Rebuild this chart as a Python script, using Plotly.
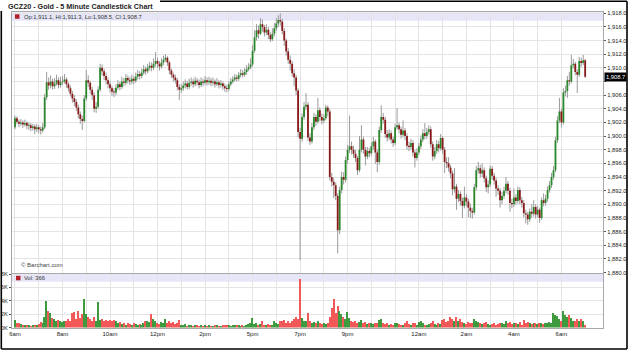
import plotly.graph_objects as go

# ---------------- data (5-minute bars, index 0 = 6:00am) ----------------
opens = [
    1901.3,1902.6,1902.1,1901.8,1902.0,1901.7,1901.9,1901.5,1901.6,1901.2,1901.4,1901.0,
    1901.3,1901.0,1900.8,1901.3,1905.7,1907.9,1907.4,1908.0,1907.3,1907.7,1908.2,1907.5,
    1907.9,1908.0,1908.3,1907.6,1907.0,1906.2,1905.5,1905.0,1904.2,1903.2,1902.5,1902.2,
    1905.5,1908.2,1907.8,1906.8,1906.0,1904.0,1904.3,1906.8,1910.0,1909.5,1908.8,1908.2,
    1907.6,1907.0,1906.5,1906.4,1907.1,1907.6,1907.2,1908.0,1907.8,1908.5,1908.2,1908.0,
    1908.4,1908.1,1908.7,1909.1,1908.8,1909.3,1909.8,1909.5,1910.0,1910.3,1910.0,1910.6,
    1911.0,1910.6,1910.2,1910.8,1911.2,1911.5,1910.8,1909.6,1909.0,1908.6,1908.2,1907.2,
    1906.8,1907.0,1907.4,1907.7,1907.2,1907.8,1908.0,1907.6,1908.1,1907.9,1907.5,1908.0,
    1907.8,1908.2,1907.9,1908.1,1907.8,1908.0,1907.6,1907.9,1907.5,1907.7,1907.3,1907.0,
    1906.9,1907.6,1908.0,1908.3,1908.6,1908.4,1908.9,1909.2,1909.0,1909.4,1909.8,1910.1,
    1910.5,1912.5,1914.5,1915.5,1915.0,1916.4,1916.0,1915.2,1915.6,1914.8,1914.2,1915.0,
    1915.8,1916.5,1917.0,1916.8,1915.4,1914.0,1912.4,1911.2,1910.6,1909.2,1908.6,1906.7,
    1900.6,1899.6,1902.8,1904.3,1904.6,1899.8,1899.2,1901.3,1902.8,1902.1,1903.8,1902.8,
    1902.3,1902.6,1904.2,1903.6,1894.0,1893.3,1892.8,1891.2,1886.2,1892.1,1894.0,1893.6,
    1896.5,1898.0,1898.5,1898.0,1897.4,1896.8,1895.0,1898.0,1899.5,1898.0,1897.0,1897.8,
    1897.5,1898.5,1899.2,1897.6,1896.2,1900.9,1902.8,1902.4,1900.3,1899.8,1900.4,1899.5,
    1899.0,1901.3,1901.6,1901.0,1900.2,1900.8,1900.0,1898.6,1898.4,1899.0,1897.6,1896.8,
    1897.6,1898.5,1899.5,1900.4,1900.0,1900.6,1901.0,1898.8,1897.0,1897.8,1898.8,1898.2,
    1899.7,1898.0,1896.2,1896.0,1895.4,1894.5,1892.2,1892.6,1890.8,1891.5,1890.5,1889.8,
    1891.0,1890.4,1889.5,1889.0,1888.8,1892.5,1895.0,1895.3,1894.5,1895.0,1893.8,1892.5,
    1892.9,1895.2,1894.2,1893.5,1892.3,1892.0,1890.6,1891.2,1892.0,1893.0,1892.0,1890.2,
    1890.0,1891.0,1890.5,1892.1,1890.6,1890.2,1888.7,1888.5,1887.8,1888.9,1888.6,1889.6,
    1888.5,1889.2,1888.0,1890.6,1890.2,1890.8,1892.1,1892.8,1894.0,1895.0,1899.4,1902.3,
    1903.6,1902.0,1906.4,1906.6,1908.2,1908.0,1910.4,1910.6,1909.4,1909.0,1911.0,1910.7,
    1911.1,
]
highs = [
    1903.0,1902.9,1902.4,1902.5,1902.3,1902.4,1902.2,1902.0,1901.9,1901.8,1901.7,1901.8,
    1901.6,1901.4,1901.9,1906.2,1909.4,1908.6,1908.9,1908.4,1908.5,1909.0,1908.6,1908.7,
    1908.8,1909.1,1908.6,1907.9,1907.4,1906.6,1906.0,1905.4,1904.6,1903.6,1903.0,1906.0,
    1909.7,1908.9,1908.1,1907.2,1906.4,1905.0,1907.3,1910.6,1910.5,1909.9,1909.3,1908.6,
    1908.0,1907.4,1907.0,1907.6,1908.2,1908.0,1908.7,1908.5,1909.1,1908.9,1908.7,1909.0,
    1908.8,1909.3,1909.7,1909.5,1909.9,1910.4,1910.2,1910.6,1910.9,1910.8,1911.4,1912.3,
    1911.5,1911.0,1911.4,1911.8,1912.0,1911.7,1911.0,1909.9,1909.3,1909.0,1908.5,1907.6,
    1907.6,1908.0,1908.3,1908.1,1908.4,1908.6,1908.4,1908.7,1908.5,1908.3,1908.6,1908.4,
    1908.8,1908.6,1908.7,1908.5,1908.6,1908.3,1908.5,1908.2,1908.2,1908.0,1907.7,1907.5,
    1908.0,1908.5,1908.8,1909.1,1909.0,1909.4,1909.8,1909.7,1910.0,1910.4,1910.7,1911.4,
    1913.3,1915.5,1916.4,1916.2,1917.3,1917.1,1916.3,1916.4,1916.0,1915.2,1915.8,1916.6,
    1917.3,1917.7,1918.0,1917.2,1915.8,1914.3,1912.9,1911.8,1911.0,1909.8,1909.0,1907.0,
    1901.2,1903.3,1905.0,1906.3,1905.0,1900.4,1901.9,1903.4,1903.2,1905.6,1904.2,1903.3,
    1903.2,1904.6,1904.5,1904.0,1894.6,1893.9,1893.2,1891.6,1892.6,1894.8,1894.7,1897.0,
    1898.7,1903.0,1899.2,1898.6,1898.0,1897.1,1900.0,1901.6,1899.9,1898.4,1898.4,1898.2,
    1899.1,1899.9,1899.5,1898.0,1901.4,1904.5,1903.4,1902.8,1900.9,1901.0,1900.8,1899.9,
    1901.8,1904.1,1902.0,1901.4,1902.3,1901.2,1900.4,1899.2,1899.6,1899.4,1898.0,1898.2,
    1899.0,1900.1,1901.0,1901.9,1901.2,1901.6,1901.4,1899.2,1898.4,1899.4,1899.3,1900.3,
    1900.0,1898.4,1896.9,1896.9,1895.8,1894.9,1895.3,1893.0,1892.1,1891.9,1891.0,1892.6,
    1891.5,1890.8,1890.1,1889.5,1893.0,1895.6,1896.2,1895.8,1896.0,1895.4,1894.2,1893.5,
    1895.7,1895.6,1894.6,1893.9,1892.8,1892.4,1891.8,1892.6,1894.0,1893.4,1892.4,1890.8,
    1892.3,1891.5,1892.6,1892.5,1891.1,1890.6,1889.2,1888.9,1889.4,1890.0,1890.6,1890.0,
    1889.8,1889.5,1891.0,1891.6,1891.4,1892.6,1893.4,1894.6,1895.6,1899.9,1902.9,1905.6,
    1904.0,1907.0,1907.4,1908.8,1909.4,1911.9,1911.3,1910.9,1909.8,1911.6,1911.5,1911.9,
    1911.3,
]
lows = [
    1901.0,1901.8,1901.3,1901.5,1901.2,1901.4,1901.0,1900.9,1900.7,1900.8,1900.3,1900.6,
    1900.4,1900.2,1900.5,1901.0,1905.3,1906.8,1907.0,1906.8,1906.9,1907.4,1907.0,1907.1,
    1907.5,1907.7,1907.1,1906.5,1905.8,1904.9,1904.4,1903.7,1902.6,1901.8,1900.9,1902.0,
    1905.2,1907.2,1906.2,1905.3,1903.5,1903.4,1904.0,1906.5,1908.9,1908.2,1907.6,1907.0,
    1906.4,1905.9,1905.7,1906.0,1906.8,1906.7,1906.9,1907.3,1907.5,1907.7,1907.5,1907.6,
    1907.6,1907.8,1908.3,1908.3,1908.5,1909.0,1909.0,1909.2,1909.6,1909.5,1909.7,1910.2,
    1910.0,1909.6,1909.9,1910.4,1910.9,1910.3,1909.1,1908.5,1908.0,1907.7,1906.7,1905.3,
    1906.3,1906.6,1907.0,1906.8,1906.9,1907.4,1907.1,1907.3,1907.4,1907.0,1907.2,1907.3,
    1907.5,1907.4,1907.5,1907.3,1907.4,1907.1,1907.3,1907.0,1907.1,1906.8,1906.5,1906.4,
    1906.6,1907.3,1907.7,1908.0,1908.0,1908.1,1908.6,1908.6,1908.7,1909.0,1909.5,1909.8,
    1910.2,1912.2,1914.0,1914.3,1914.8,1915.3,1914.6,1914.8,1914.2,1913.8,1913.9,1914.6,
    1915.4,1916.0,1916.2,1914.9,1913.2,1911.8,1910.6,1909.6,1908.7,1907.3,1906.0,1899.8,
    1881.8,1899.2,1902.4,1903.8,1899.3,1898.7,1898.9,1900.9,1901.5,1901.8,1902.2,1901.7,
    1901.9,1902.3,1902.9,1893.5,1892.6,1890.9,1890.6,1882.8,1885.6,1891.6,1892.9,1893.2,
    1896.0,1897.5,1897.3,1896.8,1896.2,1894.3,1894.7,1897.6,1897.4,1895.7,1896.6,1896.9,
    1897.1,1898.0,1895.9,1894.7,1895.8,1900.5,1901.8,1899.7,1899.2,1899.4,1898.9,1898.4,
    1898.7,1900.9,1900.4,1899.6,1899.8,1899.4,1898.0,1897.8,1898.0,1897.0,1895.4,1896.4,
    1897.2,1898.1,1899.1,1899.5,1899.6,1900.2,1898.3,1896.4,1896.6,1897.4,1897.6,1897.9,
    1897.4,1894.6,1895.3,1894.8,1893.8,1891.3,1891.7,1889.2,1890.3,1889.8,1888.0,1889.4,
    1889.7,1888.1,1888.0,1887.9,1888.5,1892.1,1894.5,1893.9,1894.0,1893.2,1891.8,1891.6,
    1892.5,1893.6,1892.9,1891.1,1891.4,1889.5,1890.0,1890.8,1891.6,1891.4,1888.9,1889.4,
    1889.6,1889.9,1890.1,1890.0,1889.5,1888.1,1887.2,1887.0,1887.4,1888.0,1888.2,1887.9,
    1888.1,1887.3,1887.7,1889.7,1889.8,1890.4,1891.7,1892.4,1893.6,1894.7,1899.0,1901.9,
    1901.3,1901.7,1905.8,1905.6,1907.4,1907.7,1909.9,1908.9,1906.3,1908.7,1910.1,1910.4,
    1908.5,
]
closes = [
    1902.6,1902.1,1901.8,1902.0,1901.7,1901.9,1901.5,1901.6,1901.2,1901.4,1901.0,1901.3,
    1901.0,1900.8,1901.3,1905.7,1907.9,1907.4,1908.0,1907.3,1907.7,1908.2,1907.5,1907.9,
    1908.0,1908.3,1907.6,1907.0,1906.2,1905.5,1905.0,1904.2,1903.2,1902.5,1902.2,1905.5,
    1908.2,1907.8,1906.8,1906.0,1904.0,1904.3,1906.8,1910.0,1909.5,1908.8,1908.2,1907.6,
    1907.0,1906.5,1906.4,1907.1,1907.6,1907.2,1908.0,1907.8,1908.5,1908.2,1908.0,1908.4,
    1908.1,1908.7,1909.1,1908.8,1909.3,1909.8,1909.5,1910.0,1910.3,1910.0,1910.6,1911.0,
    1910.6,1910.2,1910.8,1911.2,1911.5,1910.8,1909.6,1909.0,1908.6,1908.2,1907.2,1906.8,
    1907.0,1907.4,1907.7,1907.2,1907.8,1908.0,1907.6,1908.1,1907.9,1907.5,1908.0,1907.8,
    1908.2,1907.9,1908.1,1907.8,1908.0,1907.6,1907.9,1907.5,1907.7,1907.3,1907.0,1906.9,
    1907.6,1908.0,1908.3,1908.6,1908.4,1908.9,1909.2,1909.0,1909.4,1909.8,1910.1,1910.5,
    1912.5,1914.5,1915.5,1915.0,1916.4,1916.0,1915.2,1915.6,1914.8,1914.2,1915.0,1915.8,
    1916.5,1917.0,1916.8,1915.4,1914.0,1912.4,1911.2,1910.6,1909.2,1908.6,1906.7,1900.6,
    1899.6,1902.8,1904.3,1904.6,1899.8,1899.2,1901.3,1902.8,1902.1,1903.8,1902.8,1902.3,
    1902.6,1904.2,1903.6,1894.0,1893.3,1892.8,1891.2,1886.2,1892.1,1894.0,1893.6,1896.5,
    1898.0,1898.5,1898.0,1897.4,1896.8,1895.0,1898.0,1899.5,1898.0,1897.0,1897.8,1897.5,
    1898.5,1899.2,1897.6,1896.2,1900.9,1902.8,1902.4,1900.3,1899.8,1900.4,1899.5,1899.0,
    1901.3,1901.6,1901.0,1900.2,1900.8,1900.0,1898.6,1898.4,1899.0,1897.6,1896.8,1897.6,
    1898.5,1899.5,1900.4,1900.0,1900.6,1901.0,1898.8,1897.0,1897.8,1898.8,1898.2,1899.7,
    1898.0,1896.2,1896.0,1895.4,1894.5,1892.2,1892.6,1890.8,1891.5,1890.5,1889.8,1891.0,
    1890.4,1889.5,1889.0,1888.8,1892.5,1895.0,1895.3,1894.5,1895.0,1893.8,1892.5,1892.9,
    1895.2,1894.2,1893.5,1892.3,1892.0,1890.6,1891.2,1892.0,1893.0,1892.0,1890.2,1890.0,
    1891.0,1890.5,1892.1,1890.6,1890.2,1888.7,1888.5,1887.8,1888.9,1888.6,1889.6,1888.5,
    1889.2,1888.0,1890.6,1890.2,1890.8,1892.1,1892.8,1894.0,1895.0,1899.4,1902.3,1903.6,
    1902.0,1906.4,1906.6,1908.2,1908.0,1910.4,1910.6,1909.4,1909.0,1911.0,1910.7,1911.1,
    1908.7,
]
volumes = [
    1100,600,700,500,300,400,350,300,250,400,300,350,
    500,800,700,1600,3900,2400,2100,1400,1200,1000,1100,900,
    800,1000,1000,1200,900,2100,2300,1200,2500,1400,2000,4300,
    2000,1500,1300,1000,1500,900,3800,1100,1200,1000,1100,900,
    1100,1000,1100,900,700,800,500,600,400,700,500,400,
    600,500,300,500,400,700,1000,1000,800,2000,1200,900,
    700,500,800,600,1300,700,900,600,800,500,700,1100,
    400,300,500,200,300,400,250,300,350,200,300,250,
    400,200,300,250,200,350,300,250,200,300,350,400,
    300,250,300,400,350,300,250,300,200,300,500,600,
    1400,500,600,400,500,1000,400,300,500,400,300,1000,
    700,500,1000,900,1100,700,1000,600,900,1200,1500,1300,
    7200,1400,1000,900,2200,1000,700,800,600,1000,700,500,
    600,500,700,1600,2900,4200,2200,3200,2400,2000,1600,1200,
    2300,1400,1000,800,900,700,800,1100,600,800,500,700,
    600,500,700,600,1100,1200,700,500,600,400,500,400,
    600,700,500,400,300,600,900,500,400,600,700,400,
    800,1000,600,400,300,500,700,1000,500,400,600,500,
    1100,1300,800,1000,1600,1200,900,1600,1000,1300,800,700,
    500,800,600,700,1200,1000,800,700,500,600,800,500,
    400,500,600,400,500,700,600,500,900,600,800,500,
    700,600,500,800,400,1100,700,800,600,500,700,600,
    500,700,600,500,700,600,800,700,2100,1900,1700,1200,
    1000,2500,1800,1500,1800,1400,1000,1000,1300,900,1200,900,
    366,
]

# hour gridlines (bar index of each hour) and their labels
hour_ticks = [0, 12, 24, 36, 48, 60, 72, 84, 96, 108, 120, 132,
              144, 156, 168, 180, 192, 204, 216, 228, 240, 252, 264, 276]
hour_labels = ['6am', '', '8am', '', '10am', '', '12pm', '', '2pm', '', '5pm', '',
               '7pm', '', '9pm', '', '', '12am', '', '2am', '', '4am', '', '6am']
price_ticks = [1880, 1882, 1884, 1886, 1888, 1890, 1892, 1894, 1896, 1898,
               1900, 1902, 1904, 1906, 1908, 1910, 1912, 1914, 1916, 1918]
price_labels = ['1,880.0', '1,882.0', '1,884.0', '1,886.0', '1,888.0', '1,890.0',
                '1,892.0', '1,894.0', '1,896.0', '1,898.0', '1,900.0', '1,902.0',
                '1,904.0', '1,906.0', '', '1,910.0', '1,912.0', '1,914.0',
                '1,916.0', '1,918.0']
vol_ticks = [0, 2000, 4000, 6000, 8000]
vol_labels = ['0K', '2K', '4K', '6K', '8K']

title_text = 'GCZ20 - Gold - 5 Minute Candlestick Chart'
legend_text = 'Op:1,911.1, Hi:1,911.3, Lo:1,908.5, Cl:1,908.7'
vol_text = 'Vol: 366'
last_price = 1908.7
last_label = '1,908.7'

# ---------------- figure ----------------
FONT = 'Liberation Sans, Arial, sans-serif'
GRID = '#e4e4e4'
BORDER = '#a8a8a8'

idx = list(range(len(closes)))
up = [c >= o for o, c in zip(opens, closes)]
vol_col = ['#3f9a3f' if u else '#f25858' for u in up]

# wick segments
wx, wy = [], []
for i, h, l in zip(idx, highs, lows):
    wx += [i, i, None]
    wy += [l, h, None]

# body segments (drawn as thick lines above the wicks)
ux, uy, dx, dy = [], [], [], []
for i, o, c in zip(idx, opens, closes):
    lo_b, hi_b = min(o, c), max(o, c)
    if hi_b - lo_b < 0.15:
        hi_b = lo_b + 0.15
    if c >= o:
        ux += [i, i, None]
        uy += [lo_b, hi_b, None]
    else:
        dx += [i, i, None]
        dy += [lo_b, hi_b, None]

fig = go.Figure()
fig.add_trace(go.Scatter(x=wx, y=wy, mode='lines', line=dict(color='#9a9a9a', width=1),
                         hoverinfo='skip', xaxis='x', yaxis='y'))
fig.add_trace(go.Scatter(x=ux, y=uy, mode='lines', line=dict(color='#2a862a', width=1.8),
                         hoverinfo='skip', xaxis='x', yaxis='y'))
fig.add_trace(go.Scatter(x=dx, y=dy, mode='lines', line=dict(color='#8a1a1a', width=1.8),
                         hoverinfo='skip', xaxis='x', yaxis='y'))
fig.add_trace(go.Bar(x=idx, y=volumes, width=0.7,
                     marker=dict(color=vol_col, line=dict(width=0)), xaxis='x2', yaxis='y2'))

# pixel helpers (plot area: x 12..603, y 12..328)
def px(p):
    return (p - 12) / 591.0

def py(p):
    return (328 - p) / 316.0

xr = [-1.5, 297]
fig.update_layout(
    width=628, height=352,
    margin=dict(l=12, r=25, t=12, b=24, autoexpand=False),
    paper_bgcolor='white', plot_bgcolor='white',
    showlegend=False, hovermode=False, bargap=0,
    font=dict(family=FONT, size=6, color='#222222'),
    xaxis=dict(domain=[0, 1], anchor='y', range=xr, tickvals=hour_ticks, automargin=False,
               showticklabels=False, ticks='', showgrid=True, gridcolor=GRID,
               showline=True, mirror=True, linecolor=BORDER, linewidth=1, zeroline=False),
    yaxis=dict(domain=[py(272.5), 1], anchor='x', range=[1880, 1918.19], side='right',
               automargin=False,
               tickvals=price_ticks, ticktext=price_labels, ticks='outside', ticklen=2,
               tickcolor='#555555', tickfont=dict(size=5.8, color='#222222'),
               showgrid=True, gridcolor=GRID, showline=True, mirror=True,
               linecolor=BORDER, linewidth=1, zeroline=False),
    xaxis2=dict(domain=[0, 1], anchor='y2', range=xr, tickvals=hour_ticks, automargin=False,
                ticktext=hour_labels, ticks='', tickfont=dict(size=6, color='#222222'),
                showgrid=True, gridcolor=GRID, showline=True, mirror=True,
                linecolor=BORDER, linewidth=1, zeroline=False),
    yaxis2=dict(domain=[py(327.5), py(274)], anchor='x2', range=[0, 8000], side='left',
                automargin=False,
                tickvals=vol_ticks, ticktext=vol_labels, ticks='outside', ticklen=2,
                tickcolor='#555555', tickfont=dict(size=5.8, color='#222222'),
                showgrid=True, gridcolor=GRID, showline=True, mirror=True,
                linecolor=BORDER, linewidth=1, zeroline=False),
)

shapes = []
# legend bands
shapes.append(dict(type='rect', xref='paper', yref='paper', x0=0, x1=1, y0=py(20.8), y1=py(12.3),
                   fillcolor='#e6e6f8', line=dict(width=0), layer='below'))
shapes.append(dict(type='rect', xref='paper', yref='paper', x0=0, x1=1, y0=py(281.8), y1=py(274),
                   fillcolor='#e6e6f8', line=dict(width=0), layer='below'))
# red squares in legends
shapes.append(dict(type='rect', xref='paper', yref='paper', x0=px(15), x1=px(19.5), y0=py(18.8), y1=py(14.3),
                   fillcolor='#b3202a', line=dict(width=0)))
shapes.append(dict(type='rect', xref='paper', yref='paper', x0=px(16), x1=px(20.5), y0=py(280.3), y1=py(275.8),
                   fillcolor='#b3202a', line=dict(width=0)))
# outer black frame
K = dict(color='black', width=1.6)
shapes.append(dict(type='line', xref='paper', yref='paper', x0=px(160), x1=px(627), y0=py(1.3), y1=py(1.3), line=K))
shapes.append(dict(type='line', xref='paper', yref='paper', x0=px(627), x1=px(627), y0=py(1.3), y1=py(349), line=K))
shapes.append(dict(type='line', xref='paper', yref='paper', x0=px(1.3), x1=px(627), y0=py(349), y1=py(349), line=K))
shapes.append(dict(type='line', xref='paper', yref='paper', x0=px(1.3), x1=px(1.3), y0=py(11), y1=py(349), line=K))
fig.update_layout(shapes=shapes)

ann = []
ann.append(dict(text='<b>' + title_text + '</b>', xref='paper', yref='paper', x=px(6), y=py(6.5),
                xanchor='left', yanchor='middle', showarrow=False,
                font=dict(size=7.2, color='#222222', family=FONT)))
ann.append(dict(text=legend_text, xref='paper', yref='paper', x=px(21.5), y=py(16.6),
                xanchor='left', yanchor='middle', showarrow=False,
                font=dict(size=5.8, color='#333333', family=FONT)))
ann.append(dict(text=vol_text, xref='paper', yref='paper', x=px(22), y=py(278),
                xanchor='left', yanchor='middle', showarrow=False,
                font=dict(size=5.8, color='#333333', family=FONT)))
ann.append(dict(text='© Barchart.com', xref='paper', yref='paper', x=px(19), y=py(265),
                xanchor='left', yanchor='middle', showarrow=False,
                font=dict(size=6, color='#444444', family=FONT)))
ann.append(dict(text=last_label, xref='paper', yref='y', x=1, y=last_price,
                xanchor='left', yanchor='middle', xshift=1, showarrow=False,
                bgcolor='black', borderpad=1,
                font=dict(size=5.8, color='white', family=FONT)))
fig.update_layout(annotations=ann)

fig.write_html('out.html')
